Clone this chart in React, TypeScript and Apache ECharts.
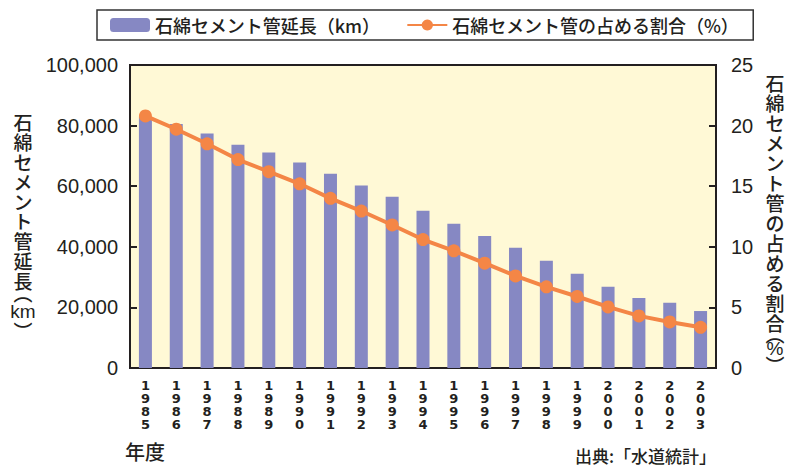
import React, { useEffect, useRef } from "react";
import * as echarts from "echarts";

const years = ["1985","1986","1987","1988","1989","1990","1991","1992","1993","1994","1995","1996","1997","1998","1999","2000","2001","2002","2003"];
const lengthKm = [83000, 80500, 77400, 73700, 71100, 67800, 64100, 60200, 56500, 51900, 47600, 43600, 39700, 35400, 31100, 26800, 23100, 21500, 18800];
const sharePct = [20.8, 19.7, 18.5, 17.2, 16.2, 15.2, 14.0, 12.95, 11.8, 10.6, 9.67, 8.65, 7.6, 6.7, 5.9, 5.04, 4.3, 3.8, 3.36];
const barName = "石綿セメント管延長（km）";
const lineName = "石綿セメント管の占める割合（%）";
const leftTitleChars = ["石","綿","セ","メ","ン","ト","管","延","長"];
const leftTitleUnit = "km";
const rightTitleChars = ["石","綿","セ","メ","ン","ト","管","の","占","め","る","割","合"];
const rightTitleUnit = "%";
const xName = "年度";
const sourceText = "出典:「水道統計」";

const INK = "#231f20";
const CJK = "'Noto Sans CJK JP', sans-serif";
const NUM = "'Liberation Sans', Arial, sans-serif";

function verticalTitle(
  chars: string[],
  unit: string,
  cx: number,
  top: number,
  step: number,
  parenH: number,
  unitH: number
) {
  const els: any[] = [];
  chars.forEach((c, i) => {
    els.push({
      type: "text",
      x: cx,
      y: top + step * i + step / 2,
      style: { text: c, font: `500 19px ${CJK}`, fill: INK, align: "center", verticalAlign: "middle" },
    });
  });
  let y = top + step * chars.length;
  els.push({
    type: "text",
    x: cx,
    y: y + parenH / 2 - 4,
    style: { text: "︵", font: `500 19px ${CJK}`, fill: INK, align: "center", verticalAlign: "middle" },
  });
  y += parenH;
  els.push({
    type: "text",
    x: cx,
    y: y + unitH / 2,
    style: { text: unit, font: `19px ${NUM}`, fill: INK, align: "center", verticalAlign: "middle" },
  });
  y += unitH;
  els.push({
    type: "text",
    x: cx,
    y: y + parenH / 2 + 4,
    style: { text: "︶", font: `500 19px ${CJK}`, fill: INK, align: "center", verticalAlign: "middle" },
  });
  return els;
}

export default function App() {
  const ref = useRef<HTMLDivElement>(null);
  useEffect(() => {
    if (!ref.current) return;
    const chart = echarts.init(ref.current, null, { renderer: "svg" });
    chart.setOption({
      animation: false,
      backgroundColor: "#ffffff",
      textStyle: { fontFamily: CJK },
      legend: {
        left: 97,
        top: 10,
        padding: [6, 14, 6, 13],
        itemWidth: 40,
        itemHeight: 14,
        itemGap: 26,
        borderColor: "#333333",
        borderWidth: 1.5,
        textStyle: { fontSize: 18, color: INK, fontFamily: CJK, fontWeight: 500 },
        data: [barName, lineName],
      },
      grid: {
        left: 130,
        right: 71,
        top: 65,
        bottom: 101,
        show: true,
        backgroundColor: "#fff9d6",
        borderColor: INK,
        borderWidth: 2,
        outerBoundsMode: "none",
        containLabel: false,
      },
      xAxis: {
        type: "category",
        data: years,
        axisLine: { show: true, lineStyle: { color: INK, width: 2 } },
        axisTick: { show: false },
        axisLabel: {
          interval: 0,
          margin: 11,
          color: INK,
          fontFamily: "'DejaVu Sans', sans-serif",
          fontWeight: "bold",
          fontSize: 13,
          lineHeight: 13,
          formatter: (v: string) => v.split("").join("\n"),
        },
      },
      yAxis: [
        {
          type: "value",
          min: 0,
          max: 100000,
          interval: 20000,
          axisLine: { show: true, lineStyle: { color: INK, width: 2 } },
          axisTick: { show: true, inside: true, length: 7, lineStyle: { color: INK, width: 2 } },
          splitLine: { show: false },
          axisLabel: {
            margin: 12,
            color: INK,
            fontFamily: NUM,
            fontSize: 20,
            formatter: (v: number) => v.toLocaleString("en-US"),
          },
        },
        {
          type: "value",
          min: 0,
          max: 25,
          interval: 5,
          position: "right",
          axisLine: { show: true, lineStyle: { color: INK, width: 2 } },
          axisTick: { show: true, inside: true, length: 7, lineStyle: { color: INK, width: 2 } },
          splitLine: { show: false },
          axisLabel: { margin: 15, color: INK, fontFamily: NUM, fontSize: 20 },
        },
      ],
      series: [
        {
          name: barName,
          type: "bar",
          data: lengthKm,
          barWidth: 13,
          itemStyle: { color: "#8688c3" },
          yAxisIndex: 0,
          z: 2,
        },
        {
          name: lineName,
          type: "line",
          data: sharePct,
          yAxisIndex: 1,
          symbol: "circle",
          symbolSize: 13,
          lineStyle: { color: "#f48646", width: 4 },
          itemStyle: { color: "#f48646" },
          z: 3,
        },
      ],
      graphic: [
        ...verticalTitle(leftTitleChars, leftTitleUnit, 23, 112, 19.8, 13, 17),
        ...verticalTitle(rightTitleChars, rightTitleUnit, 775, 72, 20, 10, 13),
        {
          type: "text",
          left: 125,
          top: 441,
          style: { text: xName, font: `500 20px ${CJK}`, fill: INK },
        },
        {
          type: "text",
          left: 575,
          top: 447,
          style: { text: sourceText, font: `500 17px ${CJK}`, fill: INK },
        },
      ],
    });
    return () => chart.dispose();
  }, []);
  return <div ref={ref} style={{ width: 787, height: 469, position: "absolute", left: 0, top: 0 }} />;
}
